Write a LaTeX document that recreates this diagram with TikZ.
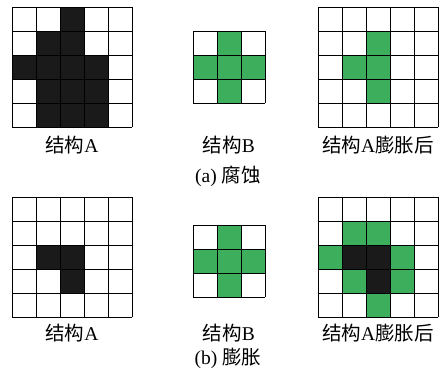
\documentclass[tikz,border=0pt]{standalone}
\usepackage{fontspec}
\setmainfont{Liberation Serif}
\newfontfamily\cjk{Noto Sans CJK SC}
\definecolor{cellgreen}{RGB}{60,174,92}
\definecolor{cellblack}{RGB}{26,26,26}
\tikzset{
  gridline/.style={line width=0.9pt, black},
  caption/.style={font=\fontsize{19.5}{22}\selectfont},
}
\begin{document}
\begin{tikzpicture}[x=1pt,y=-1pt]
    \useasboundingbox (0,0) rectangle (445,373);
    % (a) erosion: black and green cells
    \foreach \c/\r in {2/0,1/1,2/1,0/2,1/2,2/2,3/2,1/3,2/3,3/3,1/4,2/4,3/4}
        \fill[cellblack] (12+24*\c,7+24*\r) rectangle ++(24,24);
    \foreach \c/\r in {1/0,0/1,1/1,2/1,1/2}
        \fill[cellgreen] (193+24*\c,31+24*\r) rectangle ++(24,24);
    \foreach \c/\r in {2/1,1/2,2/2,2/3}
        \fill[cellgreen] (318+24*\c,7+24*\r) rectangle ++(24,24);
    % (b) dilation
    \foreach \c/\r in {1/2,2/2,2/3}
        \fill[cellblack] (12+24*\c,197+24*\r) rectangle ++(24,24);
    \foreach \c/\r in {1/0,0/1,1/1,2/1,1/2}
        \fill[cellgreen] (193+24*\c,225+24*\r) rectangle ++(24,24);
    \foreach \c/\r in {1/1,2/1,0/2,3/2,1/3,3/3,2/4}
        \fill[cellgreen] (318+24*\c,197+24*\r) rectangle ++(24,24);
    \foreach \c/\r in {1/2,2/2,2/3}
        \fill[cellblack] (318+24*\c,197+24*\r) rectangle ++(24,24);
    % grid lines
    \foreach \gx/\gy/\n in {12/7/5, 193/31/3, 318/7/5, 12/197/5, 193/225/3, 318/197/5} {
        \foreach \k in {0,...,\n} {
            \draw[gridline] (\gx+24*\k,\gy) -- ++(0,24*\n);
            \draw[gridline] (\gx,\gy+24*\k) -- ++(24*\n,0);
        }
    }
    % labels
    \node[caption] (labA1) at (72,145) {{\cjk 结构}A};
    \node[caption] (labB1) at (229,145) {{\cjk 结构}B};
    \node[caption] (labC1) at (378,145) {{\cjk 结构}A{\cjk 膨胀后}};
    \node[caption] (capA) at (228,176) {(a) {\cjk 腐蚀}};
    \node[caption] (labA2) at (72,333) {{\cjk 结构}A};
    \node[caption] (labB2) at (229,333) {{\cjk 结构}B};
    \node[caption] (labC2) at (378,333) {{\cjk 结构}A{\cjk 膨胀后}};
    \node[caption] (capB) at (228,358) {(b) {\cjk 膨胀}};
\end{tikzpicture}
\end{document}
